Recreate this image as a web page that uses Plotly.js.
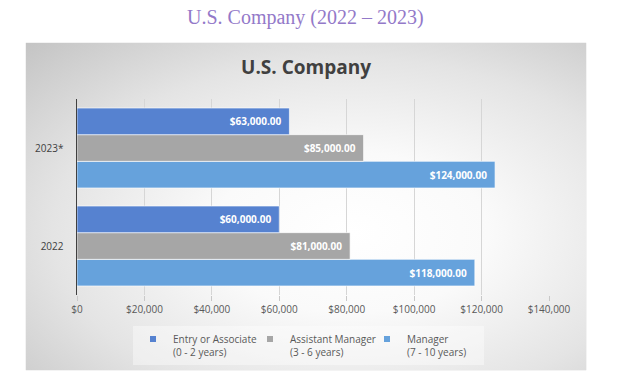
<!DOCTYPE html>
<html>
<head>
<meta charset="utf-8">
<script src="https://cdn.plot.ly/plotly-3.0.1.min.js"></script>
<style>
  html, body { margin: 0; padding: 0; background: #ffffff; }
  #wrap { position: relative; width: 617px; height: 387px; }
  #bg { position: absolute; left: 26px; top: 43px; width: 560px; height: 327px;
        background: radial-gradient(ellipse farthest-corner at 58% 58%, #ffffff 0%, #fafafa 30%, #e4e4e4 65%, #c4c4c4 100%);
        box-shadow: 0 0 1px #b5b5b5; }
  #chart { position: absolute; left: 0; top: 0; width: 617px; height: 387px; }
</style>
</head>
<body>
<div id="wrap">
  <div id="bg"></div>
  <div id="chart"></div>
</div>
<script>
// ---- data ----
const years = ['2022', '2023*'];
const entryValues = [60000, 63000];
const assistantValues = [81000, 85000];
const managerValues = [118000, 124000];
const seriesNames = ['Entry or Associate<br>(0 - 2 years)', 'Assistant Manager<br>(3 - 6 years)', 'Manager<br>(7 - 10 years)'];
const xTickValues = [0, 20000, 40000, 60000, 80000, 100000, 120000, 140000];
const xTickLabels = ['$0', '$20,000', '$40,000', '$60,000', '$80,000', '$100,000', '$120,000', '$140,000'];
const chartTitle = 'U.S. Company';
const pageTitle = 'U.S. Company (2022 \u2013 2023)';

const colors = { entry: '#5682d0', assistant: '#a6a6a6', manager: '#66a2dc' };

function barTrace(vals, color) {
  return {
    type: 'bar', orientation: 'h', showlegend: false,
    y: years, x: vals,
    marker: { color: color, line: { color: 'rgba(255,255,255,0.8)', width: 0.8 } },
    texttemplate: '%{x:$,.2f}\u00a0\u00a0',
    textposition: 'inside', insidetextanchor: 'end',
    textfont: { family: 'Open Sans', size: 10, color: '#ffffff', weight: 'bold' },
    hoverinfo: 'skip'
  };
}
// legend-only keys (small square swatches like the original)
function keyTrace(name, color) {
  return {
    type: 'scatter', mode: 'markers', name: name,
    x: [null], y: [null],
    marker: { symbol: 'square', size: 6, color: color },
    hoverinfo: 'skip'
  };
}

// Plotly places horizontal grouped bars bottom-up, so add Manager first
const data = [
  barTrace(managerValues, colors.manager),
  barTrace(assistantValues, colors.assistant),
  barTrace(entryValues, colors.entry),
  keyTrace(seriesNames[0], colors.entry),
  keyTrace(seriesNames[1], colors.assistant),
  keyTrace(seriesNames[2], colors.manager)
];

const layout = {
  width: 617, height: 387,
  paper_bgcolor: 'rgba(0,0,0,0)', plot_bgcolor: 'rgba(0,0,0,0)',
  margin: { l: 77.3, r: 67.7, t: 98.7, b: 92.3 },
  barmode: 'group', bargap: 0.184, bargroupgap: 0,
  font: { family: 'Open Sans', size: 10, color: '#595959' },
  title: {
    text: chartTitle, xref: 'container', x: 306 / 617, xanchor: 'center',
    yref: 'container', y: 1 - 67 / 387, yanchor: 'middle',
    font: { family: 'Open Sans', size: 19, color: '#404040', weight: 'bold' }
  },
  xaxis: {
    range: [0, 140000], tickvals: xTickValues, ticktext: xTickLabels,
    showgrid: true, gridcolor: '#d6d6d6', gridwidth: 1,
    zeroline: false, showline: false,
    ticks: 'outside', ticklen: 5, tickcolor: '#c8c8c8',
    tickfont: { family: 'Open Sans', size: 10, color: '#595959' },
    fixedrange: true
  },
  yaxis: {
    type: 'category', categoryorder: 'array', categoryarray: years,
    showline: true, linecolor: '#404040', linewidth: 1.5,
    showgrid: false, zeroline: false, ticks: '',
    ticklabelstandoff: 10,
    tickfont: { family: 'Open Sans', size: 10, color: '#404040' },
    fixedrange: true
  },
  showlegend: true,
  legend: {
    orientation: 'h', xref: 'container', yref: 'container',
    x: 133 / 617, xanchor: 'left', y: 1 - 326 / 387, yanchor: 'top',
    valign: 'top', itemwidth: 30, entrywidth: 72, traceorder: 'normal',
    bgcolor: 'rgba(255,255,255,0.4)',
    font: { family: 'Open Sans', size: 10, color: '#595959' }
  },
  annotations: [{
    text: pageTitle, xref: 'paper', yref: 'paper',
    x: (306 - 77.3) / 472, y: (294.7 - 17) / 196, xanchor: 'center', yanchor: 'middle',
    showarrow: false,
    font: { family: 'Liberation Serif', size: 20, color: '#9379c9' }
  }]
};

Plotly.newPlot('chart', data, layout, { displayModeBar: false, staticPlot: true });
</script>
</body>
</html>
